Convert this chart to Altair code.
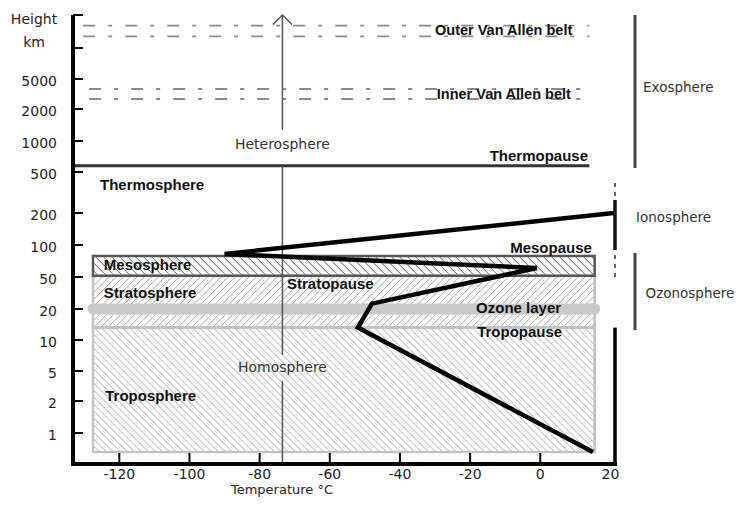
import altair as alt
import numpy as np
import pandas as pd

# ---------------- data ----------------
height_tick_km = [1, 2, 5, 10, 20, 50, 100, 200, 500, 1000, 2000, 5000]
height_mark_km = [1, 2, 5, 10, 20, 50, 100, 200, 500, 1000, 2000, 5000, 10000, 20000]
temp_tick_c = [-120, -100, -80, -60, -40, -20, 0, 20]
temp_mark_c = [-120, -100, -80, -60, -40, -20, 0]

# temperature profile (°C, km)
profile_temp_c = [15, -52, -48, -1, -90, 21]
profile_km = [0, 14, 25, 64, 86, 200]

# atmospheric layer boxes
layer_names = ["Troposphere", "Stratosphere", "Mesosphere"]
layer_bottom_km = [0, 14, 52]
layer_top_km = [14, 52, 83]
layer_temp_min_c = -127.5
layer_temp_max_c = 15.5

ozone_layer_km = 20
thermopause_km = 600
thermopause_temp_end_c = 14

# Van Allen belts (double dash-dot lines)
belt_km = [16800, 13500, 4000, 3000]
belt_temp_start_c = [-130.3, -130.3, -128.6, -128.6]
belt_temp_end_c = [14, 14, 14, 14]

# heterosphere / homosphere divider
divider_temp_c = -73.5
divider_top_km = [20000, 600]
divider_bottom_km = [1350, 7.6]
divider_lowest_start_km = 4

# right-hand brackets
bracket_temp_c = 27.0
exosphere_km = [565, 20000]
ozonosphere_km = [13.2, 87.5]
ionosphere_dashed_km = [50, 456]
ionosphere_solid_km = [92, 295]
right_axis_top_km = 14

# labels: (text, temperature, height km)
bold_left_labels = [
    ("Thermosphere", -125.5, 405), ("Mesosphere", -124.4, 69),
    ("Stratosphere", -124.4, 35), ("Troposphere", -124.0, 2.5),
    ("Stratopause", -72.2, 43), ("Ozone layer", -18.3, 20.5),
    ("Tropopause", -18.0, 12.6),
]
belt_labels = [("Outer Van Allen belt", -30.0, 15150), ("Inner Van Allen belt", -29.5, 3400)]
bold_right_labels = [("Thermopause", 13.6, 758), ("Mesopause", 14.7, 95)]
center_labels = [("Heterosphere", -73.5, 935), ("Homosphere", -73.5, 5.5)]
side_labels = [("Exosphere", 29.3, 4100), ("Ionosphere", 27.3, 184), ("Ozonosphere", 30.0, 34)]
y_title = "Height\nkm"
x_title = "Temperature °C"

# ---------------- layout ----------------
W, H = 542, 449
X_DOMAIN = [-133.2, 21.3]
Y_KNOTS = [0] + height_mark_km
Y_RANGE = [437, 418, 386, 356, 325, 294, 262, 230, 198, 157, 126, 94, 64, 33, 0]

xs = alt.Scale(domain=X_DOMAIN, nice=False, zero=False)
ys = alt.Scale(domain=Y_KNOTS, range=Y_RANGE, nice=False, zero=False)


def X(f):
    return alt.X(f, type="quantitative", scale=xs, axis=None)


def Y(f):
    return alt.Y(f, type="quantitative", scale=ys, axis=None)


def t2px(t):
    return (t - X_DOMAIN[0]) / (X_DOMAIN[1] - X_DOMAIN[0]) * W


def px2t(p):
    return X_DOMAIN[0] + p / W * (X_DOMAIN[1] - X_DOMAIN[0])


def km2px(k):
    return float(np.interp(k, Y_KNOTS, Y_RANGE))


def px2km(p):
    return float(np.interp(p, Y_RANGE[::-1], Y_KNOTS[::-1]))


# hatch pattern for the layer boxes (drawn in pixel space, converted back)
def hatch_rows(name, kb, kt, step, direction):
    x0, x1 = t2px(layer_temp_min_c), t2px(layer_temp_max_c)
    y0, y1 = km2px(kt), km2px(kb)
    rows = []
    if direction == "back":
        for c in np.arange(y0 - x1 + step / 2, y1 - x0, step):
            xa, xb = max(x0, y0 - c), min(x1, y1 - c)
            if xb - xa > 0.5:
                rows.append((px2t(xa), px2km(xa + c), px2t(xb), px2km(xb + c), name))
    else:
        for c in np.arange(x0 + y0 + step / 2, x1 + y1, step):
            xa, xb = max(x0, c - y1), min(x1, c - y0)
            if xb - xa > 0.5:
                rows.append((px2t(xa), px2km(c - xa), px2t(xb), px2km(c - xb), name))
    return rows


hatch = []
hatch += hatch_rows("Troposphere", layer_bottom_km[0], layer_top_km[0], 7, "back")
hatch += hatch_rows("Stratosphere", layer_bottom_km[1], layer_top_km[1], 7, "fwd")
hatch += hatch_rows("Mesosphere", layer_bottom_km[2], layer_top_km[2], 8, "back")
hatch_df = pd.DataFrame(hatch, columns=["t1", "k1", "t2", "k2", "layer"])

one = pd.DataFrame({"a": [0]})
REG = "DejaVu Sans"
BOLD = "Liberation Sans"

hatch_layer = alt.Chart(hatch_df).mark_rule(strokeWidth=1).encode(
    x=X("t1"), x2="t2", y=Y("k1"), y2="k2",
    color=alt.Color("layer:N", legend=None,
                    scale=alt.Scale(domain=layer_names, range=["#a8a8a8", "#a8a8a8", "#666666"])),
)

box_df = pd.DataFrame({
    "layer": layer_names, "bottom": layer_bottom_km, "top": layer_top_km,
    "t0": [layer_temp_min_c] * 3, "t1": [layer_temp_max_c] * 3,
})
light_boxes = alt.Chart(box_df.iloc[:2]).mark_rect(
    fillOpacity=0, stroke="#c2c2c2", strokeWidth=2.5).encode(
    x=X("t0"), x2="t1", y=Y("bottom"), y2="top")
meso_box = alt.Chart(box_df.iloc[2:]).mark_rect(
    fillOpacity=0, stroke="#555555", strokeWidth=2.5).encode(
    x=X("t0"), x2="t1", y=Y("bottom"), y2="top")

ozone = alt.Chart(pd.DataFrame({"km": [ozone_layer_km], "t0": [layer_temp_min_c],
                                "t1": [layer_temp_max_c]})).mark_rule(
    strokeWidth=11, strokeCap="round", color="#c9c9c9").encode(
    x=X("t0"), x2="t1", y=Y("km"))

belt_df = pd.DataFrame({"km": belt_km, "t0": belt_temp_start_c, "t1": belt_temp_end_c})
belts = alt.Chart(belt_df).mark_rule(
    strokeWidth=1.8, color="#8a8a8a", strokeDash=[12, 13, 4, 13]).encode(
    x=X("t0"), x2="t1", y=Y("km"))

thermo = alt.Chart(pd.DataFrame({"km": [thermopause_km], "t0": [X_DOMAIN[0]],
                                 "t1": [thermopause_temp_end_c]})).mark_rule(
    strokeWidth=3, color="#333333").encode(x=X("t0"), x2="t1", y=Y("km"))

div_df = pd.DataFrame({"t": [divider_temp_c] * 2, "k1": divider_top_km, "k2": divider_bottom_km})
divider = alt.Chart(div_df).mark_rule(strokeWidth=1.5, color="#555555").encode(
    x=X("t"), y=Y("k1"), y2="k2")
divider_low = alt.Chart(pd.DataFrame({"t": [divider_temp_c], "k": [divider_lowest_start_km]})).mark_rule(
    strokeWidth=1.5, color="#555555").encode(x=X("t"), y=Y("k"), y2=alt.value(H))
arrow = alt.Chart(pd.DataFrame({"t": [divider_temp_c], "k": [divider_top_km[0]]})).mark_point(
    shape="M-1,1L0,0L1,1", filled=False, size=361, stroke="#555555", strokeWidth=1.5,
    opacity=1).encode(x=X("t"), y=Y("k"))

# axes drawn as marks
left_line = alt.Chart(one).mark_rule(strokeWidth=4, color="#000000").encode(
    x=alt.value(0), y=alt.value(0), y2=alt.value(H + 2))
bottom_line = alt.Chart(one).mark_rule(strokeWidth=4, color="#000000").encode(
    y=alt.value(H), x=alt.value(-2), x2=alt.value(W + 2))
right_line = alt.Chart(pd.DataFrame({"k": [right_axis_top_km]})).mark_rule(
    strokeWidth=3.5, color="#000000").encode(x=alt.value(W), y=Y("k"), y2=alt.value(H))

left_ticks = alt.Chart(pd.DataFrame({"km": height_mark_km})).mark_rule(
    strokeWidth=2, color="#000000").encode(x=alt.value(0), x2=alt.value(10), y=Y("km"))
bottom_ticks = alt.Chart(pd.DataFrame({"t": temp_mark_c})).mark_rule(
    strokeWidth=2, color="#000000").encode(x=X("t"), y=alt.value(H), y2=alt.value(H - 11))

y_labels = alt.Chart(pd.DataFrame({"km": height_tick_km,
                                   "label": [str(v) for v in height_tick_km]})).mark_text(
    align="right", baseline="middle", font=REG, fontSize=14, color="#222222", dy=3).encode(
    x=alt.value(-16), y=Y("km"), text="label:N")
x_labels = alt.Chart(pd.DataFrame({"t": temp_tick_c,
                                   "label": [str(v) for v in temp_tick_c]})).mark_text(
    align="center", baseline="middle", font=REG, fontSize=14, color="#222222").encode(
    x=X("t"), y=alt.value(H + 11), text="label:N")
y_title_mark = alt.Chart(one).mark_text(
    text=y_title, lineBreak="\n", lineHeight=23, align="center", baseline="top",
    font=REG, fontSize=14, color="#222222").encode(x=alt.value(-39), y=alt.value(-2))
x_title_mark = alt.Chart(one).mark_text(
    text=x_title, align="center", baseline="middle",
    font=REG, fontSize=13, color="#222222").encode(x=alt.value(209), y=alt.value(H + 26))

ex_df = pd.DataFrame({"t": [bracket_temp_c], "k1": [exosphere_km[0]], "k2": [exosphere_km[1]]})
oz_df = pd.DataFrame({"t": [bracket_temp_c], "k1": [ozonosphere_km[0]], "k2": [ozonosphere_km[1]]})
brackets = alt.Chart(pd.concat([ex_df, oz_df])).mark_rule(strokeWidth=3, color="#444444").encode(
    x=X("t"), y=Y("k1"), y2="k2")
iono_dash = alt.Chart(pd.DataFrame({"k1": [ionosphere_dashed_km[0]], "k2": [ionosphere_dashed_km[1]]})).mark_rule(
    strokeWidth=1.5, color="#333333", strokeDash=[4, 5]).encode(
    x=alt.value(W), y=Y("k1"), y2="k2")
iono_solid = alt.Chart(pd.DataFrame({"k1": [ionosphere_solid_km[0]], "k2": [ionosphere_solid_km[1]]})).mark_rule(
    strokeWidth=3.5, color="#111111").encode(
    x=alt.value(W), y=Y("k1"), y2="k2")

prof_df = pd.DataFrame({"t": profile_temp_c, "km": profile_km, "o": list(range(len(profile_km)))})
profile = alt.Chart(prof_df).mark_line(
    color="#000000", strokeWidth=4.5, strokeJoin="miter").encode(
    x=X("t"), y=Y("km"), order="o:Q")


def labels(rows, align, font, size, weight, color):
    df = pd.DataFrame(rows, columns=["text", "t", "km"])
    return alt.Chart(df).mark_text(
        align=align, baseline="middle", font=font, fontSize=size,
        fontWeight=weight, color=color).encode(x=X("t"), y=Y("km"), text="text:N")


texts = [
    labels(bold_left_labels, "left", BOLD, 15, "bold", "#111111"),
    labels(belt_labels, "left", BOLD, 14.5, "bold", "#111111"),
    labels(bold_right_labels, "right", BOLD, 15, "bold", "#111111"),
    labels(center_labels, "center", REG, 14, "normal", "#333333"),
    labels(side_labels, "left", REG, 13.5, "normal", "#333333"),
]

chart = alt.layer(
    hatch_layer, light_boxes, ozone, meso_box, belts, thermo,
    divider, divider_low, arrow, left_ticks, bottom_ticks, left_line, bottom_line, right_line,
    brackets, iono_dash, iono_solid, profile, y_labels, x_labels, y_title_mark, x_title_mark,
    *texts,
).properties(
    width=W, height=H,
    autosize=alt.AutoSizeParams(type="none"),
    padding={"left": 65, "top": 7, "right": 121, "bottom": 34},
    background="white",
).configure_view(strokeOpacity=0)

chart.save("out.html", embed_options={"renderer": "svg", "actions": False})
